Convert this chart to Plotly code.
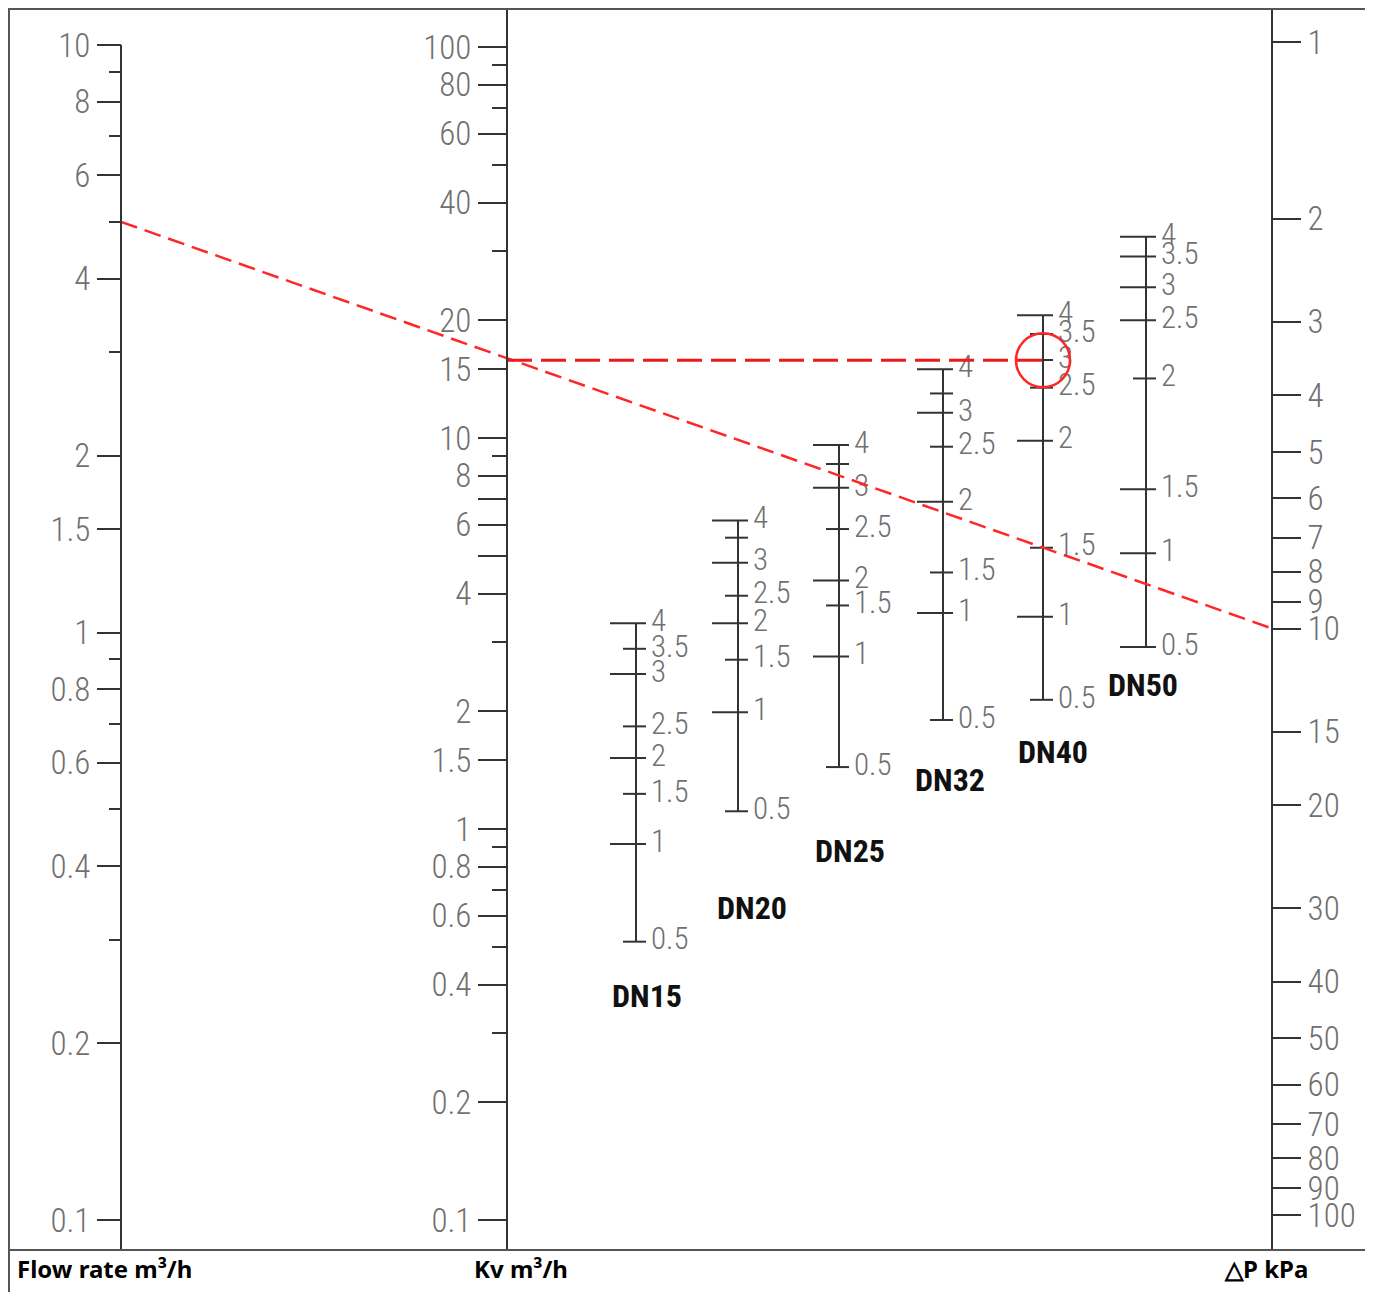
import math
import plotly.graph_objects as go

W, H = 1373, 1292

# ---------------- data ----------------
FLOW_MAJOR = [10, 8, 6, 4, 2, 1.5, 1, 0.8, 0.6, 0.4, 0.2, 0.1]
FLOW_MINOR = [9, 7, 5, 3, 0.9, 0.7, 0.5, 0.3]
KV_MAJOR = [100, 80, 60, 40, 20, 15, 10, 8, 7, 6, 5, 4, 2, 1.5, 1, 0.8, 0.6, 0.4, 0.2, 0.1]
KV_MAJOR_TEXT = ["100", "80", "60", "40", "20", "15", "10", "8", "", "6", "", "4",
                 "2", "1.5", "1", "0.8", "0.6", "0.4", "0.2", "0.1"]
KV_MINOR = [90, 70, 50, 30, 9, 3, 0.9, 0.7, 0.5, 0.3]
DP_TICKS = [1, 2, 3, 4, 5, 6, 7, 8, 9, 10, 15, 20, 30, 40, 50, 60, 70, 80, 90, 100]

TURNS = [4, 3.5, 3, 2.5, 2, 1.5, 1, 0.5]
DN_NAMES = ["DN15", "DN20", "DN25", "DN32", "DN40", "DN50"]
KV_DN15 = [3.36, 2.89, 2.49, 1.83, 1.52, 1.23, 0.915, 0.515]
KV_DN20 = [6.15, 5.56, 4.80, 3.95, 3.36, 2.71, 1.99, 1.11]
KV_DN25 = [9.60, 8.58, 7.46, 5.85, 4.32, 3.73, 2.76, 1.44]
KV_DN32 = [15.0, 13.0, 11.6, 9.50, 6.87, 4.53, 3.57, 1.90]
KV_DN40 = [20.6, 18.45, 15.83, 13.45, 9.84, 5.24, 3.49, 2.14]
KV_DN50 = [32.7, 29.1, 24.3, 20.0, 14.2, 7.39, 5.07, 2.92]
DN_KV = [KV_DN15, KV_DN20, KV_DN25, KV_DN32, KV_DN40, KV_DN50]
# which turn values carry a label on each scale
DN_LABELS = [
    ["4", "3.5", "3", "2.5", "2", "1.5", "1", "0.5"],
    ["4", "", "3", "2.5", "2", "1.5", "1", "0.5"],
    ["4", "", "3", "2.5", "2", "1.5", "1", "0.5"],
    ["4", "", "3", "2.5", "2", "1.5", "1", "0.5"],
    ["4", "3.5", "3", "2.5", "2", "1.5", "1", "0.5"],
    ["4", "3.5", "3", "2.5", "2", "1.5", "1", "0.5"],
]

# worked example
Q_EX = 5        # m3/h
DP_EX = 10      # kPa
EX_DN = 4       # index of DN40
KV_EX = Q_EX / math.sqrt(DP_EX / 100.0)

# ---------------- layout / style ----------------
DN_LONG = [
    [1, 0, 1, 0, 1, 0, 1, 0],
    [1, 0, 1, 0, 1, 0, 1, 0],
    [1, 0, 1, 0, 1, 0, 1, 0],
    [1, 0, 1, 0, 1, 0, 1, 0],
    [1, 0, 1, 0, 1, 0, 1, 0],
    [1, 1, 1, 1, 0, 1, 1, 1],
]
OFF = 8  # page body margin
X_FLOW, X_KV, X_DP = 121, 507, 1272
DN_X = [636, 738, 839, 943, 1043, 1146]
DN_NAME_POS = [(647, 996), (752, 908), (850, 851), (950, 780), (1053, 752), (1143, 685)]
TOP_PX, BOT_PX = OFF, 1250


def rng(v_at, y_at, px_per_dec, sign):
    lb = math.log10(v_at) + sign * (y_at - BOT_PX) / px_per_dec
    lt = math.log10(v_at) + sign * (y_at - TOP_PX) / px_per_dec
    return [lb, lt]


KV_RANGE = rng(0.1, 1220, 391.0, 1)
FLOW_RANGE = rng(0.1, 1220, 587.5, 1)
DP_RANGE = rng(1, 42, 586.5, -1)


def to_kv(v, r):
    """map a value on an axis with range r onto the Kv axis scale"""
    t = (math.log10(v) - r[0]) / (r[1] - r[0])
    return 10 ** (KV_RANGE[0] + t * (KV_RANGE[1] - KV_RANGE[0]))


def px(x):
    return min(1.0, max(0.0, (x - OFF) / W))


def py(y):
    return min(1.0, max(0.0, 1 - (y - OFF) / H))


LIGHT = "Liberation Sans Narrow, Roboto Condensed, Roboto, sans-serif"
AX_COL = "#333333"
LBL_COL = "#707070"
RED = "#ff2626"
DOM = [py(BOT_PX), py(TOP_PX)]

fig = go.Figure()

# flow axis line (starts at 10)
fig.add_trace(go.Scatter(x=[X_FLOW, X_FLOW], y=[FLOW_MAJOR[0], 10 ** FLOW_RANGE[0]],
                         yaxis="y2", mode="lines", line=dict(color=AX_COL, width=2),
                         hoverinfo="skip", showlegend=False))
# keep dP axis alive
fig.add_trace(go.Scatter(x=[X_DP], y=[DP_TICKS[0]], yaxis="y3", mode="markers",
                         marker=dict(size=1, opacity=0), hoverinfo="skip", showlegend=False))

# DN scales
for i, kvs in enumerate(DN_KV):
    x0 = DN_X[i]
    fig.add_trace(go.Scatter(x=[x0, x0], y=[kvs[0], kvs[-1]], mode="lines",
                             line=dict(color=AX_COL, width=2), hoverinfo="skip",
                             showlegend=False))
    tx, ty = [], []
    for k, v in enumerate(kvs):
        left = 26 if DN_LONG[i][k] else 13
        tx += [x0 - left, x0 + 10, None]
        ty += [v, v, None]
    fig.add_trace(go.Scatter(x=tx, y=ty, mode="lines", line=dict(color=AX_COL, width=2),
                             hoverinfo="skip", showlegend=False))
    fig.add_trace(go.Scatter(x=[x0 + 15] * len(kvs), y=kvs, mode="text",
                             text=DN_LABELS[i], textposition="middle right",
                             textfont=dict(family=LIGHT, size=31, color=LBL_COL, weight=300),
                             hoverinfo="skip", showlegend=False))
    fig.add_annotation(x=px(DN_NAME_POS[i][0]), y=py(DN_NAME_POS[i][1]), xref="paper",
                       yref="paper", text=DN_NAMES[i], showarrow=False,
                       xanchor="center", yanchor="middle",
                       font=dict(family=LIGHT, size=32, color="#111111", weight="bold"))

# example: straight line Q -> dP through Kv
fig.add_trace(go.Scatter(x=[X_FLOW, X_DP],
                         y=[to_kv(Q_EX, FLOW_RANGE), to_kv(DP_EX, DP_RANGE)],
                         mode="lines", line=dict(color=RED, width=2.5, dash="17px,8px"),
                         hoverinfo="skip", showlegend=False))
fig.add_trace(go.Scatter(x=[X_KV, DN_X[EX_DN]], y=[KV_EX, KV_EX], mode="lines",
                         line=dict(color="#f01818", width=3, dash="25px,9px"),
                         hoverinfo="skip", showlegend=False))
fig.add_trace(go.Scatter(x=[DN_X[EX_DN]], y=[KV_EX], mode="markers",
                         marker=dict(symbol="circle-open", size=54, color=RED,
                                     line=dict(color=RED, width=2.5)),
                         hoverinfo="skip", showlegend=False))

tickfont = dict(family=LIGHT, size=33, color=LBL_COL, weight=300)
common = dict(type="log", domain=DOM, anchor="free", showgrid=False, zeroline=False,
              ticks="outside", tickwidth=2, tickcolor=AX_COL, tickmode="array",
              tickfont=tickfont, fixedrange=True, ticklabelstandoff=0)

fig.update_layout(
    width=W, height=H,
    margin=dict(l=0, r=0, t=0, b=0, autoexpand=False),
    paper_bgcolor="white", plot_bgcolor="white",
    showlegend=False,
    xaxis=dict(range=[OFF, W + OFF], domain=[0, 1], visible=False, fixedrange=True),
    yaxis=dict(range=KV_RANGE, position=px(X_KV), side="left", showline=True,
               linecolor=AX_COL, linewidth=2, ticklen=28,
               tickvals=KV_MAJOR, ticktext=KV_MAJOR_TEXT,
               minor=dict(tickvals=KV_MINOR, ticklen=14, tickwidth=2, tickcolor=AX_COL,
                          ticks="outside", showgrid=False),
               **common),
    yaxis2=dict(range=FLOW_RANGE, position=px(X_FLOW), side="left", overlaying="y",
                showline=False, ticklen=24,
                tickvals=FLOW_MAJOR, ticktext=[f"{v:g}" for v in FLOW_MAJOR],
                minor=dict(tickvals=FLOW_MINOR, ticklen=12, tickwidth=2, tickcolor=AX_COL,
                           ticks="outside", showgrid=False),
                **common),
    yaxis3=dict(range=DP_RANGE, position=px(X_DP), side="right", overlaying="y",
                showline=True, linecolor=AX_COL, linewidth=2, ticklen=28,
                tickvals=DP_TICKS, ticktext=[f"{v:g}" for v in DP_TICKS],
                **common),
)

# frame (page margin hides the outermost pixels, so keep it just inside)
fig.add_shape(type="rect", xref="paper", yref="paper", x0=px(OFF + 1), x1=px(1367),
              y0=py(1310), y1=py(OFF + 1), line=dict(color="#555555", width=2))
fig.add_shape(type="line", xref="paper", yref="paper", x0=px(OFF + 1), x1=px(1367),
              y0=py(BOT_PX), y1=py(BOT_PX), line=dict(color="#555555", width=2))

TITLE_FONT = dict(family="Noto Sans, Open Sans, sans-serif", size=24, color="#000000",
                  weight="bold")
for txt, x in [("Flow rate m³/h", 15), ("Kv m³/h", 472), ("△P kPa", 1222)]:
    fig.add_annotation(x=px(x), y=py(1268), xref="paper", yref="paper", text=txt,
                       showarrow=False, xanchor="left", yanchor="middle", font=TITLE_FONT)

fig.write_html("out.html")
